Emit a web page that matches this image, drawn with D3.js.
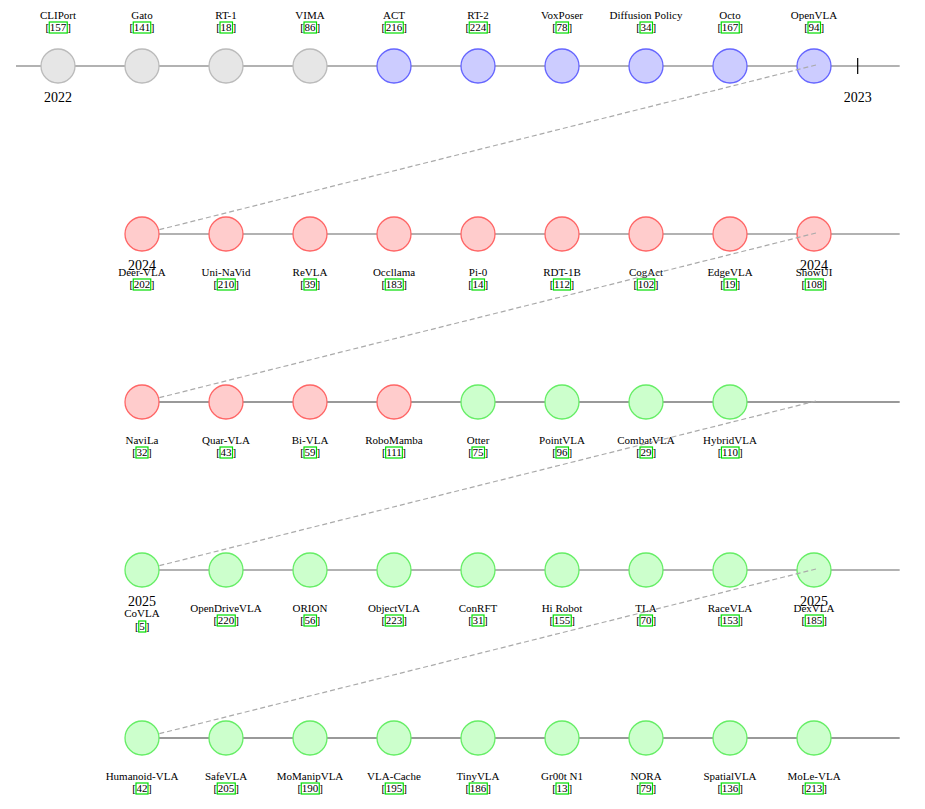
<!DOCTYPE html>
<html>
<head>
<meta charset="utf-8">
<script src="https://cdn.jsdelivr.net/npm/d3@7"></script>
<style>
  body { margin: 0; background: #fff; }
  text { font-family: "Liberation Serif", "Times New Roman", serif; }
</style>
</head>
<body>
<script>
var width = 925, height = 809;

// models in timeline order
var models = ["CLIPort", "Gato", "RT-1", "VIMA", "ACT", "RT-2", "VoxPoser", "Diffusion Policy", "Octo", "OpenVLA",
  "Deer-VLA", "Uni-NaVid", "ReVLA", "Occllama", "Pi-0", "RDT-1B", "CogAct", "EdgeVLA", "ShowUI",
  "NaviLa", "Quar-VLA", "Bi-VLA", "RoboMamba", "Otter", "PointVLA", "CombatVLA", "HybridVLA",
  "CoVLA", "OpenDriveVLA", "ORION", "ObjectVLA", "ConRFT", "Hi Robot", "TLA", "RaceVLA", "DexVLA",
  "Humanoid-VLA", "SafeVLA", "MoManipVLA", "VLA-Cache", "TinyVLA", "Gr00t N1", "NORA", "SpatialVLA", "MoLe-VLA"];

var cites = [157, 141, 18, 86, 216, 224, 78, 34, 167, 94,
  202, 210, 39, 183, 14, 112, 102, 19, 108,
  32, 43, 59, 111, 75, 96, 29, 110,
  5, 220, 56, 223, 31, 155, 70, 153, 185,
  42, 205, 190, 195, 186, 13, 79, 136, 213];

// era of each model (colour group)
var eras = ["early", "early", "early", "early", "2023", "2023", "2023", "2023", "2023", "2023",
  "2024", "2024", "2024", "2024", "2024", "2024", "2024", "2024", "2024",
  "2024", "2024", "2024", "2024", "2025", "2025", "2025", "2025",
  "2025", "2025", "2025", "2025", "2025", "2025", "2025", "2025", "2025",
  "2025", "2025", "2025", "2025", "2025", "2025", "2025", "2025", "2025"];

var rowSizes = [10, 9, 8, 9, 9];
var rowFirstSlot = [0, 1, 1, 1, 1];

// year marks: text, row, slot
var years = [
  {text: "2022", row: 0, slot: 0},
  {text: "2023", row: 0, slot: 9.52},
  {text: "2024", row: 1, slot: 1},
  {text: "2024", row: 1, slot: 9},
  {text: "2025", row: 3, slot: 1},
  {text: "2025", row: 3, slot: 9}
];

var fills = {early: "#e6e6e6", "2023": "#ccccff", "2024": "#ffcccc", "2025": "#ccffcc"};
var strokes = {early: "#bbbbbb", "2023": "#6666ff", "2024": "#ff6666", "2025": "#66ee66"};

var svg = d3.select("body").append("svg")
  .attr("width", width)
  .attr("height", height);

var x = d3.scaleLinear().domain([0, 9]).range([58, 814]);
var y = d3.scaleLinear().domain([0, 4]).range([66, 738]);

// build rows
var nodes = [];
var k = 0;
rowSizes.forEach(function(n, r) {
  for (var i = 0; i < n; i++) {
    nodes.push({name: models[k], cite: cites[k], era: eras[k], row: r, slot: rowFirstSlot[r] + i});
    k++;
  }
});

var R = 17;

rowSizes.forEach(function(n, r) {
  var g = svg.append("g");
  var rowNodes = nodes.filter(function(d) { return d.row == r; });

  // row axis line
  g.append("line")
    .attr("x1", r == 0 ? x(-0.5) : x(1))
    .attr("x2", x(10.02))
    .attr("y1", y(r)).attr("y2", y(r))
    .attr("stroke", (r == 2 || r == 4) ? "#777" : "#999")
    .attr("stroke-width", 1.6);

  if (r == 0) {
    g.append("line")
      .attr("x1", x(9.52)).attr("x2", x(9.52))
      .attr("y1", y(0) - 8).attr("y2", y(0) + 8)
      .attr("stroke", "#000").attr("stroke-width", 1.2);
  }

  g.selectAll("circle")
    .data(rowNodes)
    .enter()
    .append("circle")
    .attr("cx", function(d) { return x(d.slot); })
    .attr("cy", y(r))
    .attr("r", R)
    .attr("fill", function(d) { return fills[d.era]; })
    .attr("stroke", function(d) { return strokes[d.era]; })
    .attr("stroke-width", 1.3);

  // year labels for this row
  years.filter(function(d) { return d.row == r; }).forEach(function(d) {
    g.append("text")
      .attr("x", x(d.slot))
      .attr("y", y(r) + 36)
      .attr("text-anchor", "middle")
      .attr("font-size", 14)
      .text(d.text);
  });

  // names + citations
  rowNodes.forEach(function(d) {
    var cx = x(d.slot);
    var nameY, citeY;
    if (r == 0) {
      nameY = y(r) - 47; citeY = nameY + 12;
    } else {
      nameY = y(r) + 42; citeY = nameY + 12;
      // pushed down under the year label
      if (r == 3 && d.slot == 1) { nameY += 5; citeY += 6; }
    }
    g.append("text")
      .attr("x", cx).attr("y", nameY)
      .attr("text-anchor", "middle")
      .attr("font-size", 11)
      .text(d.name);

    var num = g.append("text")
      .attr("x", cx).attr("y", citeY)
      .attr("text-anchor", "middle")
      .attr("font-size", 11)
      .text(d.cite);
    var bb = num.node().getBBox();
    g.append("rect")
      .attr("x", bb.x - 0.5).attr("y", citeY - 9)
      .attr("width", bb.width + 1).attr("height", 11)
      .attr("fill", "none")
      .attr("stroke", "#00dd00")
      .attr("stroke-width", 1.2);
    g.append("text")
      .attr("x", bb.x - 0.5).attr("y", citeY)
      .attr("text-anchor", "end")
      .attr("font-size", 11)
      .text("[");
    g.append("text")
      .attr("x", bb.x + bb.width + 0.5).attr("y", citeY)
      .attr("text-anchor", "start")
      .attr("font-size", 11)
      .text("]");
  });

  // connector to next row
  if (r < rowSizes.length - 1) {
    g.append("line")
      .attr("x1", x(9) + 2).attr("y1", y(r) - 1)
      .attr("x2", x(1)).attr("y2", y(r + 1))
      .attr("stroke", "#aaa")
      .attr("stroke-width", 1.2)
      .attr("stroke-dasharray", "5,3");
  }
});
</script>
</body>
</html>
